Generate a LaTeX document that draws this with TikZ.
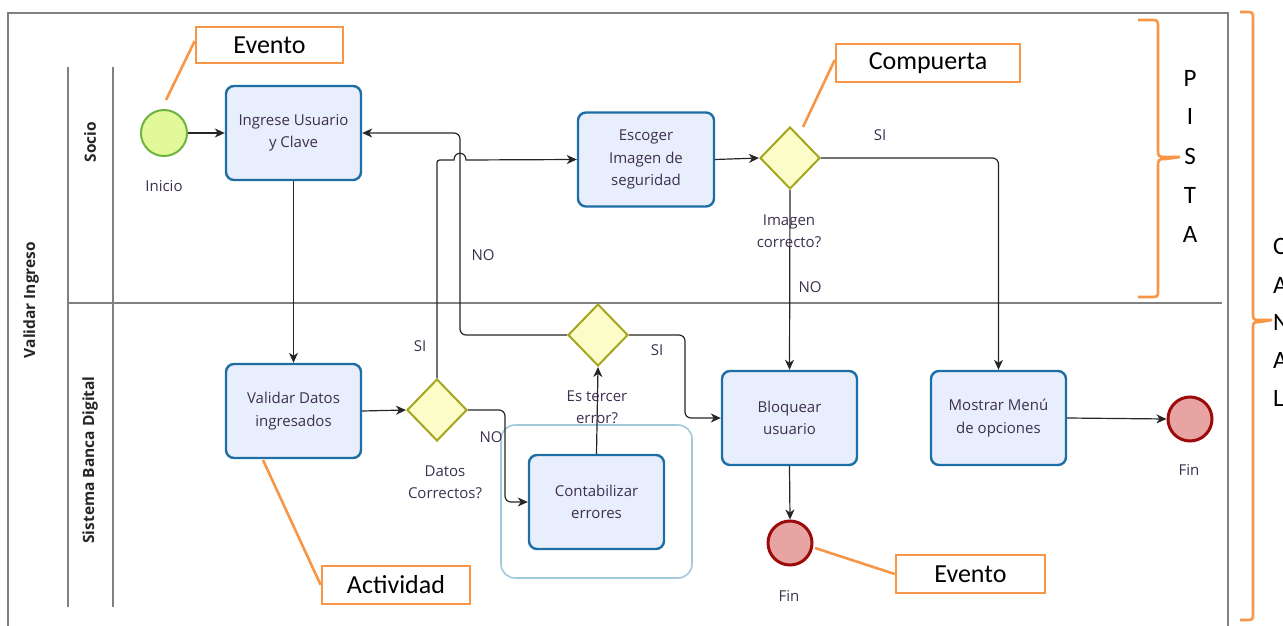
\documentclass[tikz,border=0pt]{standalone}
\usepackage{fontspec}
\setmainfont{Open Sans}
\newfontfamily\calloutfont{Carlito}
\usetikzlibrary{shapes.geometric,arrows.meta}
\definecolor{taskline}{HTML}{1C6EA4}
\definecolor{taskfill}{HTML}{E9EEFC}
\definecolor{gateline}{HTML}{A5A51E}
\definecolor{gatefill}{HTML}{FCFCC8}
\definecolor{startline}{HTML}{6DB33F}
\definecolor{startfill}{HTML}{E2F99A}
\definecolor{endline}{HTML}{9C0A0A}
\definecolor{endfill}{HTML}{E8A3A3}
\definecolor{note}{HTML}{F79646}
\definecolor{lane}{HTML}{808080}
\definecolor{grpline}{HTML}{A3CADB}
\definecolor{txt}{HTML}{3C3050}
\begin{document}
\begin{tikzpicture}[x=1pt,y=-1pt,
  task/.style={draw=taskline, fill=taskfill, line width=2.4pt, rounded corners=8pt,
    minimum width=135pt, minimum height=94pt, align=center, inner sep=0pt,
    text=txt, font=\fontsize{15}{22.5}\selectfont},
  gate/.style={diamond, draw=gateline, fill=gatefill, line width=2pt,
    minimum width=60pt, minimum height=62pt, inner sep=0pt},
  startev/.style={circle, draw=startline, fill=startfill, line width=2pt,
    minimum size=46pt, inner sep=0pt},
  endev/.style={circle, draw=endline, fill=endfill, line width=3pt,
    minimum size=44pt, inner sep=0pt},
  flow/.style={draw=black!85, line width=1.2pt, -{Stealth[length=10pt,width=9pt,inset=3pt]}},
  lbl/.style={text=txt, font=\fontsize{15}{22}\selectfont, align=center, inner sep=0pt},
  lanetitle/.style={rotate=90, font=\bfseries\fontsize{15.5}{18}\selectfont, text=black!85, inner sep=0pt},
  callout/.style={draw=note, fill=white, line width=2.6pt, minimum height=36pt,
    font=\calloutfont\fontsize{26}{28}\selectfont, inner sep=0pt},
  callline/.style={draw=note, line width=2.6pt},
  bigletter/.style={font=\calloutfont\fontsize{25}{28}\selectfont, inner sep=0pt},
  laneline/.style={draw=lane, line width=1.5pt},
  groupbox/.style={draw=grpline, line width=1.6pt, rounded corners=14pt,
    minimum width=191pt, minimum height=153pt, inner sep=0pt}
]
\useasboundingbox (0,0) rectangle (1283,626);

% pool frame and lanes
\draw[draw=lane, line width=2pt] (8,690) -- (8,13) -- (1228,13) -- (1228,690);
\draw[laneline] (68,67) -- (68,607);
\draw[laneline] (113,67) -- (113,607);
\draw[laneline] (68,303) -- (1222,303);
\node[lanetitle] (pool) at (31,300) {Validar Ingreso};
\node[lanetitle] (lane1) at (90,142) {Socio};
\node[lanetitle] (lane2) at (90,460) {Sistema Banca Digital};

% group around the error counter
\node[groupbox] (grp) at (596.5,501.5) {};

% activities
\node[task] (ing)  at (293.5,133)  {Ingrese Usuario\\y Clave};
\node[task] (val)  at (293.5,411)  {Validar Datos\\ingresados};
\node[task, minimum width=136pt] (esc) at (646,159.5) {Escoger\\Imagen de\\seguridad};
\node[task] (cont) at (596.5,502)  {Contabilizar\\errores};
\node[task] (blo)  at (789.5,418)  {Bloquear\\usuario};
\node[task] (mos)  at (998.5,418)  {Mostrar Menú\\de opciones};

% gateways
\node[gate] (datos) at (437,410) {};
\node[gate] (ter)   at (598,335) {};
\node[gate] (img)   at (790,158) {};

% events
\node[startev] (start) at (164,133) {};
\node[endev] (fin1) at (790,543) {};
\node[endev] (fin2) at (1190,419) {};

% sequence flows
\draw[flow] (start) -- (ing);
\draw[flow] (ing) -- (val);
\draw[flow] (val.east) -- (datos.west);
\draw[flow] (datos.north) -- (437,166) .. controls (437,160) .. (443,160) -- (454,160)
  .. controls (454,151) and (466,151) .. (466,160) -- (esc.west);
\draw[flow, rounded corners=6pt] (ter.west) -- (460,335) -- (460,133) -- (ing.east);
\draw[flow, rounded corners=6pt] (datos.east) -- (505,410) -- (505,502) -- (cont.west);
\draw[flow] (cont.north) -- (ter.south);
\draw[flow, rounded corners=6pt] (ter.east) -- (685,335) -- (685,418) -- (blo.west);
\draw[flow] (esc.east) -- (img.west);
\draw[flow] (img.south) -- (blo.north);
\draw[flow, rounded corners=6pt] (img.east) -| (mos.north);
\draw[flow] (blo.south) -- (fin1.north);
\draw[flow] (mos.east) -- (fin2.west);

% flow and element labels
\node[lbl] (linicio) at (164,186) {Inicio};
\node[lbl] (lno1) at (483,255) {NO};
\node[lbl] (lsi1) at (420,346) {SI};
\node[lbl] (lno2) at (491,437) {NO};
\node[lbl] (ldatos) at (445,482) {Datos\\Correctos?};
\node[lbl] (lter) at (597,407) {Es tercer\\error?};
\node[lbl] (lsi2) at (657,350) {SI};
\node[lbl] (limg) at (789,231) {Imagen\\correcto?};
\node[lbl] (lno3) at (810,287) {NO};
\node[lbl] (lsi3) at (880,135) {SI};
\node[lbl] (lfin1) at (789,596) {Fin};
\node[lbl] (lfin2) at (1189,470) {Fin};

% annotation callouts
\node[callout, minimum width=147pt] (ev1) at (269.5,45) {Evento};
\node[callout, minimum width=184pt, minimum height=38pt] (comp) at (928,63) {Compuerta};
\node[callout, minimum width=148pt, minimum height=38pt] (act) at (396,585) {Actividad};
\node[callout, minimum width=149pt, minimum height=38pt] (ev2) at (970.5,574) {Evento};
\coordinate (ev1tip) at (166,100);
\coordinate (comptip) at (803,127);
\coordinate (acttip) at (263,460);
\coordinate (ev2tip) at (815,548);
\draw[callline] (ev1.west) ++(0,-4) -- (ev1tip);
\draw[callline] (comp.west) ++(0,-3) -- (comptip);
\draw[callline] (act.west) -- (acttip);
\draw[callline] (ev2.west) -- (ev2tip);

% brace for the lane
\draw[callline] (1138,20) -- (1150,20) .. controls (1158,20) .. (1158,28) -- (1158,148)
  .. controls (1158,157) .. (1166,157) -- (1180,157) -- (1166,159)
  .. controls (1158,159) .. (1158,168) -- (1158,290) .. controls (1158,297) .. (1150,297) -- (1138,297);
\node[bigletter] (p1) at (1190,78) {P};
\node[bigletter] (p2) at (1190,116) {I};
\node[bigletter] (p3) at (1190,156) {S};
\node[bigletter] (p4) at (1190,195) {T};
\node[bigletter] (p5) at (1190,234) {A};

% brace for the pool
\draw[callline] (1240,12) -- (1246,12) .. controls (1253,12) .. (1253,20) -- (1253,312)
  .. controls (1253,320) .. (1260,320) -- (1272,320) -- (1260,322)
  .. controls (1253,322) .. (1253,330) -- (1253,612) .. controls (1253,620) .. (1246,620) -- (1240,620);
\node[bigletter, anchor=west] (c1) at (1273,246) {C};
\node[bigletter, anchor=west] (c2) at (1273,285) {A};
\node[bigletter, anchor=west] (c3) at (1273,322) {N};
\node[bigletter, anchor=west] (c4) at (1273,360) {A};
\node[bigletter, anchor=west] (c5) at (1273,398) {L};
\end{tikzpicture}
\end{document}
